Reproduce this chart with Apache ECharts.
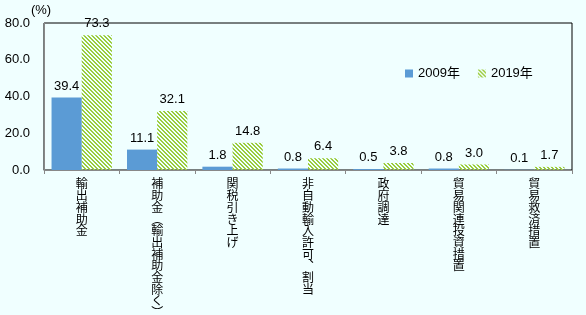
<!DOCTYPE html>
<html>
<head>
<meta charset="utf-8">
<script src="https://cdn.jsdelivr.net/npm/echarts@6/dist/echarts.min.js"></script>
<style>
  html, body { margin: 0; padding: 0; background: #f0ffff; }
  #main { width: 586px; height: 315px; }
</style>
</head>
<body>
<div id="main"></div>
<script>
var categories = ['輸出補助金', '補助金（輸出補助金除く）', '関税引き上げ', '非自動輸入許可、割当', '政府調達', '貿易関連投資措置', '貿易救済措置'];
var values2009 = [39.4, 11.1, 1.8, 0.8, 0.5, 0.8, 0.1];
var values2019 = [73.3, 32.1, 14.8, 6.4, 3.8, 3.0, 1.7];
var seriesNames = ['2009年', '2019年'];
var yTicks = { min: 0, max: 80, interval: 20 };

(function() {
  var myChart = echarts.init(document.getElementById('main'));
  var font = '"Liberation Sans", "Noto Sans CJK JP", sans-serif';

  // diagonal hatch for the 2019 bars
  function hatch() {
    var c = document.createElement('canvas');
    c.width = 8; c.height = 8;
    var ctx = c.getContext('2d');
    ctx.fillStyle = '#9ccc3c';
    for (var x = 0; x < 8; x++) {
      for (var y = 0; y < 8; y++) {
        if ((((x - y) % 4) + 4) % 4 < 2) ctx.fillRect(x, y, 1, 1);
      }
    }
    return { image: c, repeat: 'repeat' };
  }

  // vertical text: one char per line, swap in vertical punctuation
  function vertical(s) {
    return s.replace(/（/g, '︵').replace(/）/g, '︶').replace(/、/g, '︑').split('').join('\n');
  }

  var label = {
    show: true,
    position: 'top',
    distance: 5,
    color: '#000',
    fontSize: 13,
    fontFamily: font,
    formatter: function (p) { return p.value.toFixed(1); }
  };

  var option = {
    backgroundColor: '#f0ffff',
    animation: false,
    grid: {
      left: 44, right: 14, top: 23, bottom: 145,
      containLabel: false,
      outerBoundsMode: 'none',
      show: true,
      borderColor: '#000',
      borderWidth: 1
    },
    legend: {
      left: 400,
      top: 62,
      itemWidth: 8,
      itemHeight: 8,
      itemGap: 18,
      icon: 'rect',
      textStyle: { fontSize: 13, fontFamily: font, color: '#000' },
      data: seriesNames
    },
    xAxis: {
      type: 'category',
      data: categories,
      axisLine: { lineStyle: { color: '#888' } },
      axisTick: { show: true, length: 4, lineStyle: { color: '#888' } },
      axisLabel: {
        interval: 0,
        margin: 8,
        verticalAlign: 'top',
        fontSize: 12,
        lineHeight: 11.7,
        color: '#000',
        fontFamily: '"Noto Sans CJK JP", sans-serif',
        formatter: vertical
      }
    },
    yAxis: {
      type: 'value',
      min: yTicks.min,
      max: yTicks.max,
      interval: yTicks.interval,
      name: '(%)',
      nameLocation: 'end',
      nameGap: 3,
      nameTextStyle: { fontSize: 13, fontFamily: font, color: '#000', padding: [0, 6, 0, 0] },
      axisLine: { show: true, lineStyle: { color: '#888' } },
      axisTick: { show: false },
      splitLine: { show: false },
      axisLabel: {
        margin: 14,
        fontSize: 13,
        color: '#000',
        fontFamily: font,
        formatter: function (v) { return v.toFixed(1); }
      }
    },
    series: [
      {
        name: seriesNames[0],
        type: 'bar',
        data: values2009,
        barGap: '0%',
        barCategoryGap: '20%',
        itemStyle: { color: '#5b9bd5' },
        label: label
      },
      {
        name: seriesNames[1],
        type: 'bar',
        data: values2019,
        barGap: '0%',
        barCategoryGap: '20%',
        itemStyle: { color: hatch() },
        label: label
      }
    ]
  };

  myChart.setOption(option);
})();
</script>
</body>
</html>
